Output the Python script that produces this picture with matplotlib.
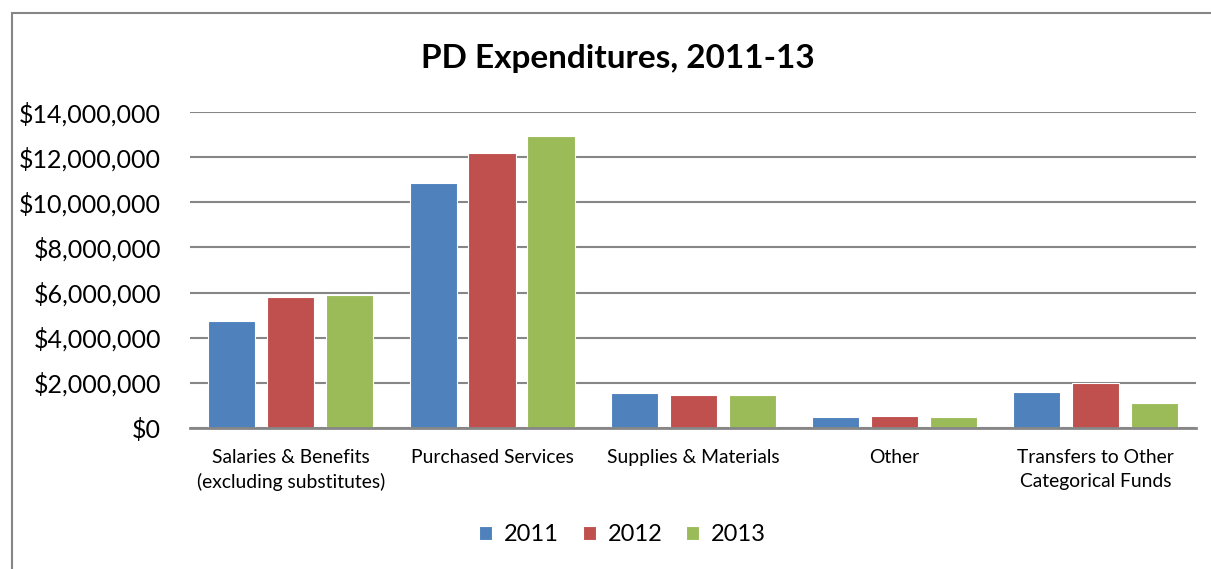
import numpy as np
import matplotlib.pyplot as plt
from matplotlib.patches import Rectangle
from matplotlib.ticker import FuncFormatter

categories = ['Salaries & Benefits\n(excluding substitutes)', 'Purchased Services',
              'Supplies & Materials', 'Other', 'Transfers to Other\nCategorical Funds']
years = ['2011', '2012', '2013']
values_2011 = [4750000, 10870000, 1560000, 470000, 1590000]
values_2012 = [5790000, 12180000, 1480000, 540000, 1990000]
values_2013 = [5890000, 12940000, 1450000, 500000, 1120000]
colors = ['#4F81BD', '#C0504D', '#9BBB59']

plt.rcParams['font.family'] = ['Lato', 'DejaVu Sans']

fig = plt.figure(figsize=(12.11, 5.69), dpi=100)
ax = fig.add_axes([0.157, 0.248, 0.831, 0.555])

x = np.arange(len(categories))
width = 0.234
offset = 0.293
series = [values_2011, values_2012, values_2013]
for i, (vals, col, yr) in enumerate(zip(series, colors, years)):
    ax.bar(x + (i - 1) * offset, vals, width, color=col, edgecolor='white',
           linewidth=0.8, label=yr, zorder=3)

ax.set_xlim(-0.5, len(categories) - 0.5)
ax.set_ylim(0, 14000000)
ax.set_yticks(np.arange(0, 14000001, 2000000))
ax.yaxis.set_major_formatter(FuncFormatter(lambda v, p: '${:,.0f}'.format(v)))
ax.set_xticks(x)
ax.set_xticklabels(categories, fontsize=13.9, linespacing=1.5)
ax.tick_params(axis='y', labelsize=18, length=0, pad=21)
ax.tick_params(axis='x', length=0, pad=15)
ax.grid(axis='y', color='#868686', linewidth=1.5, zorder=0)
for s in ['top', 'right', 'left']:
    ax.spines[s].set_visible(False)
ax.spines['bottom'].set_color('#868686')
ax.spines['bottom'].set_linewidth(2)
ax.spines['bottom'].set_zorder(4)

fig.text(0.51, 0.897, 'PD Expenditures, 2011-13', ha='center', va='center',
         fontsize=24, fontweight='bold')

fig.legend(loc='center', bbox_to_anchor=(0.514, 0.06), ncol=3, frameon=False,
           fontsize=17, handlelength=0.55, handleheight=0.55, handletextpad=0.5,
           columnspacing=1.0)

fig.patches.append(Rectangle((0.0099, -0.01), 1.0, 0.987, transform=fig.transFigure,
                             fill=False, edgecolor='#868686', linewidth=1.5))

fig.savefig('out.png', dpi=100)
